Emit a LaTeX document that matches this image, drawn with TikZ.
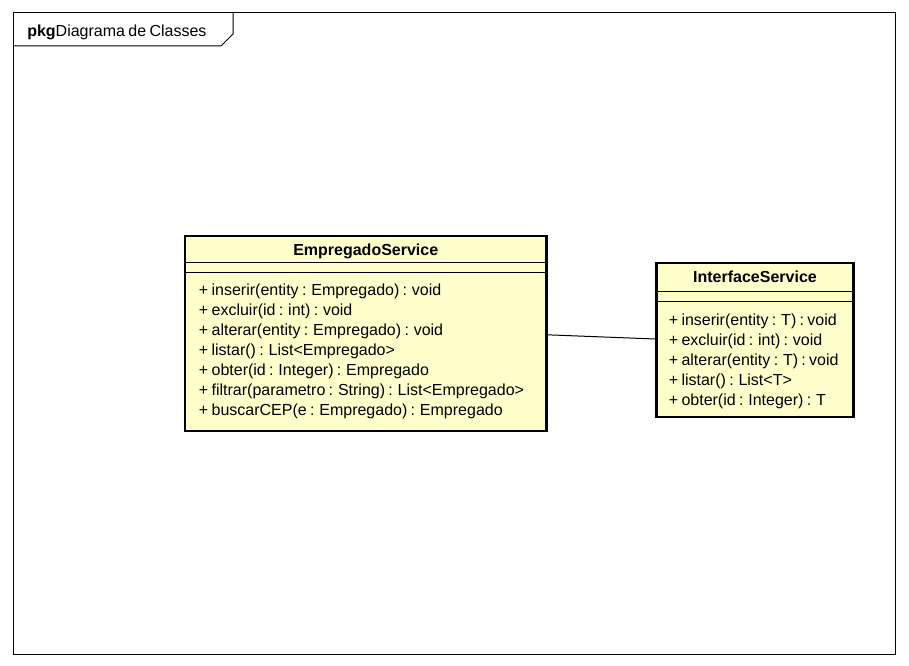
\documentclass[tikz,border=0pt]{standalone}
\usepackage{fontspec}
\setmainfont[WordSpace=0.75]{Liberation Sans}
\usetikzlibrary{positioning, calc}

\definecolor{classfill}{RGB}{255,255,204}

\begin{document}
\begin{tikzpicture}[
  x=0.75pt, y=-0.75pt,
  every node/.style={font=\fontsize{12}{15}\selectfont},
  classbox/.style={draw, line width=2.1pt, fill=classfill, inner sep=0pt},
  classname/.style={anchor=base, font=\fontsize{12}{15}\selectfont\bfseries},
  member/.style={anchor=base west, inner sep=0pt},
  compart/.style={line width=0.8pt}
]
\useasboundingbox (0,0) rectangle (909,666);

% Package frame
\draw[line width=0.75pt] (13,13) rectangle (895,654);
\draw[line width=0.75pt] (13,46) -- (221,46) -- (233,34) -- (233,13);
\node[anchor=base west, inner sep=0pt] (pkg) at (27,37) {\textbf{pkg}Diagrama de Classes};

% Class: EmpregadoService
\node[classbox, minimum width=271pt, minimum height=146.25pt] (emp) at (365.75,333.5) {};
\node[classname] (empname) at ($(emp.north)+(0,20.7)$) {EmpregadoService};
\draw[compart] ($(emp.north west)+(0,28.3)$) -- ($(emp.north east)+(0,28.3)$);
\draw[compart] ($(emp.north west)+(0,38)$) -- ($(emp.north east)+(0,38)$);
\foreach \m [count=\i from 0] in {
  + inserir(entity : Empregado) : void,
  + excluir(id : int) : void,
  + alterar(entity : Empregado) : void,
  + listar() : List<Empregado>,
  + obter(id : Integer) : Empregado,
  + filtrar(parametro : String) : List<Empregado>,
  + buscarCEP(e : Empregado) : Empregado}
  \node[member] (empop\i) at ($(emp.north west)+(15,61.3+20*\i)$) {\m};

% Class: InterfaceService
\node[classbox, minimum width=147.5pt, minimum height=115.5pt] (iface) at (755,340) {};
\node[classname] (ifacename) at ($(iface.north)+(0,21.3)$) {InterfaceService};
\draw[compart] ($(iface.north west)+(0,30.3)$) -- ($(iface.north east)+(0,30.3)$);
\draw[compart] ($(iface.north west)+(0,40.3)$) -- ($(iface.north east)+(0,40.3)$);
\foreach \m [count=\i from 0] in {
  + inserir(entity : T) : void,
  + excluir(id : int) : void,
  + alterar(entity : T) : void,
  + listar() : List<T>,
  + obter(id : Integer) : T}
  \node[member] (ifaceop\i) at ($(iface.north west)+(13.3,63.7+20*\i)$) {\m};

% Association
\draw[line width=0.75pt] ([yshift=-1pt]emp.east) -- ([yshift=0.75pt]iface.west);

\end{tikzpicture}
\end{document}
